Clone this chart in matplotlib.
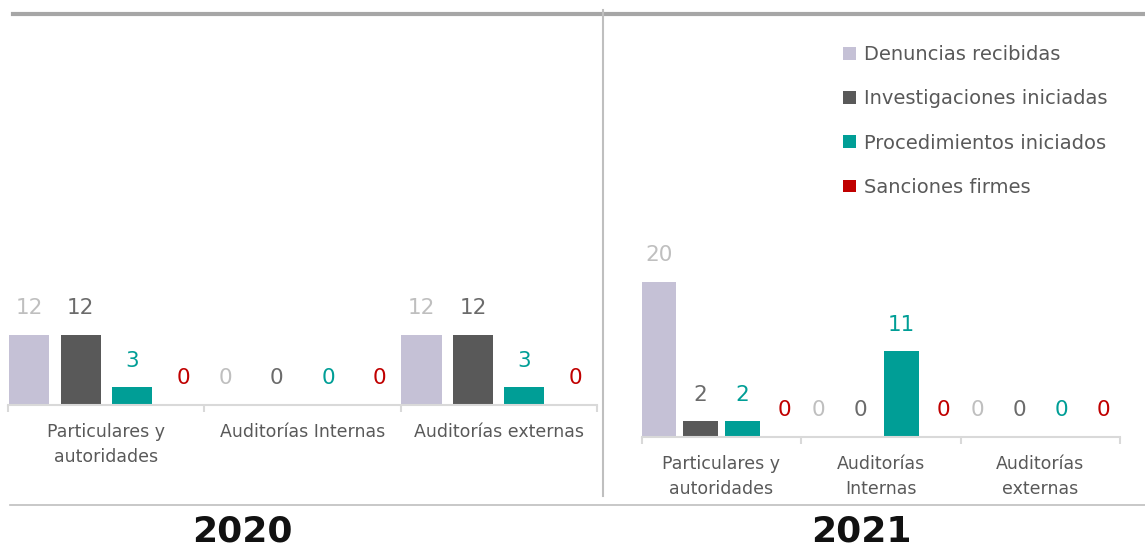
import numpy as np
import matplotlib.pyplot as plt
from matplotlib.lines import Line2D

# data
series = ['Denuncias recibidas', 'Investigaciones iniciadas',
          'Procedimientos iniciados', 'Sanciones firmes']
cats_2020 = ['Particulares y\nautoridades', 'Auditorías Internas', 'Auditorías externas']
cats_2021 = ['Particulares y\nautoridades', 'Auditorías\nInternas', 'Auditorías\nexternas']
vals_2020 = [[12, 0, 12], [12, 0, 12], [3, 0, 3], [0, 0, 0]]
vals_2021 = [[20, 0, 0], [2, 0, 0], [2, 11, 0], [0, 0, 0]]

bar_colors = ['#c5c1d6', '#595959', '#009e96', '#c00000']
lab_colors = ['#bfbfbf', '#6b6b6b', '#009e96', '#c00000']
txt = '#595959'
axis_col = '#d9d9d9'

W, H = 1145, 548
fig = plt.figure(figsize=(W / 100, H / 100), dpi=100)
plt.rcParams['font.family'] = ['DejaVu Sans']


def fx(x):
    return x / W


def fy(y):
    return 1 - y / H


def panel(x0, x1, base, ppu, cats, vals, width):
    top = 20
    ax = fig.add_axes([fx(x0), fy(base), fx(x1 - x0), (base - top) / H])
    ax.set_xlim(-0.5, 2.5)
    ax.set_ylim(0, (base - top) / ppu)
    x = np.arange(len(cats))
    step = 0.262
    for i, v in enumerate(vals):
        ax.bar(x + (i - 1.5) * step, v, width, color=bar_colors[i], label=series[i])
        for xi, vi in zip(x + (i - 1.5) * step, v):
            ax.annotate(str(vi), (xi, vi), xytext=(0, 19), textcoords='offset points',
                        ha='center', va='center', fontsize=15.5, color=lab_colors[i])
    for s in ['top', 'right', 'left']:
        ax.spines[s].set_visible(False)
    ax.spines['bottom'].set_color(axis_col)
    ax.spines['bottom'].set_linewidth(1.5)
    ax.set_yticks([])
    ax.set_xticks(x)
    ax.set_xticklabels(cats, fontsize=12.5, color=txt, linespacing=1.55)
    ax.tick_params(axis='x', which='major', length=0, pad=13)
    ax.set_xticks([-0.5, 0.5, 1.5, 2.5], minor=True)
    ax.tick_params(axis='x', which='minor', length=5, width=1.5, color=axis_col)
    ax.patch.set_alpha(0)
    return ax


ax1 = panel(8.3, 596.7, 404.5, 5.83, cats_2020, vals_2020, 0.205)
ax2 = panel(641.7, 1120, 436.7, 7.75, cats_2021, vals_2021, 0.219)

ax2.legend(loc='upper left', bbox_to_anchor=(fx(843), fy(45)), bbox_transform=fig.transFigure,
           frameon=False, fontsize=14, labelcolor=txt, handlelength=0.65, handleheight=0.65,
           handletextpad=0.45, labelspacing=1.3, borderpad=0, borderaxespad=0)

# frame lines
fig.add_artist(Line2D([fx(13), 1], [fy(13.5), fy(13.5)], color='#a6a6a6', lw=3))
fig.add_artist(Line2D([fx(10), 1], [fy(505), fy(505)], color='#bfbfbf', lw=1.2))
fig.add_artist(Line2D([fx(603), fx(603)], [fy(10), fy(496)], color='#bfbfbf', lw=1.5))

fig.text(fx(242.5), fy(532), '2020', ha='center', va='center', fontsize=26,
         fontweight='bold', color='#111111')
fig.text(fx(861), fy(532), '2021', ha='center', va='center', fontsize=26,
         fontweight='bold', color='#111111')

fig.savefig('out.png', dpi=100)
